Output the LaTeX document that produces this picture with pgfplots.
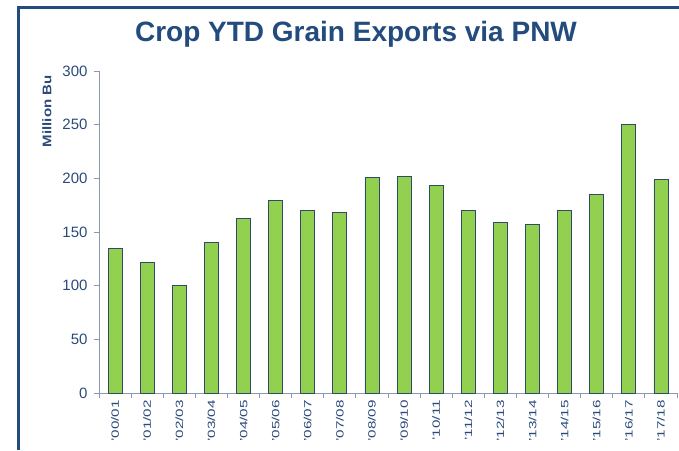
\documentclass[border=0pt]{standalone}
\usepackage{pgfplots}
\pgfplotsset{compat=1.18}
\usepackage{fontspec}
\setmainfont{Liberation Sans}
\definecolor{titleblue}{HTML}{234B7E}
\definecolor{textblue}{HTML}{2B4A7A}
\definecolor{axisgrey}{HTML}{8C98B2}
\definecolor{bargreen}{HTML}{92D050}
\definecolor{baredge}{HTML}{34496A}
\begin{document}
\begin{tikzpicture}[x=1pt,y=1pt]
\path[use as bounding box] (0,0) rectangle (679,450);
\draw[titleblue, line width=3pt] (18,0) -- (18,442) -- (679,442);
\node[titleblue, anchor=base, font=\fontsize{28}{32}\selectfont\bfseries] at (356,408) {Crop YTD Grain Exports via PNW};
\begin{axis}[
  at={(99pt,57pt)}, anchor=south west,
  scale only axis, width=578pt, height=322pt,
  xmin=-0.5, xmax=17.5, ymin=0, ymax=300,
  axis lines=left, axis line style={axisgrey, line width=0.8pt, -},
  xtick={0,...,17},
  xticklabels={'00/01,'01/02,'02/03,'03/04,'04/05,'05/06,'06/07,'07/08,'08/09,'09/10,'10/11,'11/12,'12/13,'13/14,'14/15,'15/16,'16/17,'17/18},
  x tick label style={rotate=90, anchor=east, xshift=3pt, xscale=1.45, font=\fontsize{10.5}{12}\selectfont, text=textblue},
  major x tick style={draw=none},
  minor xtick={-0.5,0.5,...,17.5},
  minor x tick style={axisgrey, line width=0.8pt},
  minor tick length=5pt,
  ytick={0,50,...,300},
  y tick label style={font=\fontsize{15}{17}\selectfont, text=textblue, xshift=-3pt},
  y tick style={axisgrey, line width=0.8pt},
  major tick length=5pt,
  tick align=outside,
  /pgf/number format/assume math mode=true,
  ylabel={Million Bu},
  ylabel style={at={(axis description cs:-0.09,0.875)}, anchor=center, xscale=1.2, font=\fontsize{12.5}{14}\selectfont\bfseries, text=textblue},
  ybar, bar width=14pt,
  clip=false,
]
\addplot[fill=bargreen, draw=baredge, line width=0.8pt] coordinates {
(0,135) (1,122) (2,100) (3,140) (4,163) (5,179) (6,170) (7,168) (8,201)
(9,202) (10,193) (11,170) (12,159) (13,157) (14,170) (15,185) (16,250) (17,199)};
\end{axis}
\end{tikzpicture}
\end{document}
